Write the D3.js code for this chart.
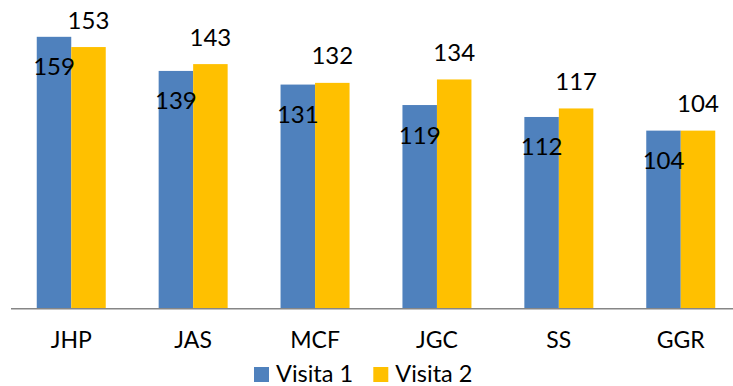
<!DOCTYPE html>
<html>
<head>
<meta charset="utf-8">
<script src="https://cdn.jsdelivr.net/npm/d3@7"></script>
<style>
  html, body { margin: 0; padding: 0; background: #fff; }
  svg { display: block; }
  text { font-family: Lato, "Open Sans", sans-serif; fill: #000; }
</style>
</head>
<body>
<svg id="chart" width="733" height="386"></svg>
<script>
const categories = ["JHP", "JAS", "MCF", "JGC", "SS", "GGR"];
const seriesNames = ["Visita 1", "Visita 2"];
const visita1 = [159, 139, 131, 119, 112, 104];
const visita2 = [153, 143, 132, 134, 117, 104];
const colors = ["#4F81BD", "#FFC000"];

const svg = d3.select("#chart");
const W = 733, H = 386;
const baseY = 308;

const x0 = d3.scaleBand()
  .domain(categories)
  .range([10.3, 741.7])
  .paddingInner(0.434)
  .paddingOuter(0.217);

const x1 = d3.scaleBand()
  .domain(seriesNames)
  .range([0, x0.bandwidth()])
  .padding(0);

const y = d3.scaleLinear().domain([0, 180]).range([baseY, 1]);

const rows = categories.map((c, i) => ({ cat: c, vals: [visita1[i], visita2[i]] }));

const g = svg.append("g");

const groups = g.selectAll("g.cat").data(rows).join("g")
  .attr("class", "cat")
  .attr("transform", d => `translate(${x0(d.cat)},0)`);

groups.selectAll("rect").data(d => d.vals.map((v, j) => ({ s: seriesNames[j], v, j })))
  .join("rect")
  .attr("x", d => x1(d.s))
  .attr("y", d => y(d.v))
  .attr("width", x1.bandwidth())
  .attr("height", d => y(0) - y(d.v))
  .attr("fill", d => colors[d.j]);

// data labels: series 1 inside below top, series 2 above top
groups.selectAll("text.lbl").data(d => d.vals.map((v, j) => ({ s: seriesNames[j], v, j })))
  .join("text")
  .attr("class", "lbl")
  .attr("x", d => x1(d.s) + x1.bandwidth() / 2)
  .attr("y", d => d.j === 0 ? y(d.v) + 38.5 : y(d.v) - 18.5)
  .attr("text-anchor", "middle")
  .attr("font-size", 24)
  .text(d => d.v);

// x axis
const xAxis = d3.axisBottom(x0).tickSize(0).tickPadding(0);
const axG = svg.append("g").attr("transform", `translate(0,${baseY})`).call(xAxis);
axG.select(".domain").attr("stroke", "#868686").attr("stroke-width", 1.6)
  .attr("d", `M11,0.8H${W}`);
axG.selectAll(".tick text")
  .attr("y", 40)
  .attr("dy", 0)
  .attr("font-size", 23)
  .attr("font-family", "Lato, 'Open Sans', sans-serif")
  .attr("fill", "#000");

// legend
const legendX = [254, 373.3];
const leg = svg.append("g");
seriesNames.forEach((s, i) => {
  leg.append("rect").attr("x", legendX[i]).attr("y", 367).attr("width", 15).attr("height", 15).attr("fill", colors[i]);
  leg.append("text").attr("x", legendX[i] + 22).attr("y", 381.5).attr("font-size", 23.5).text(s);
});
</script>
</body>
</html>
